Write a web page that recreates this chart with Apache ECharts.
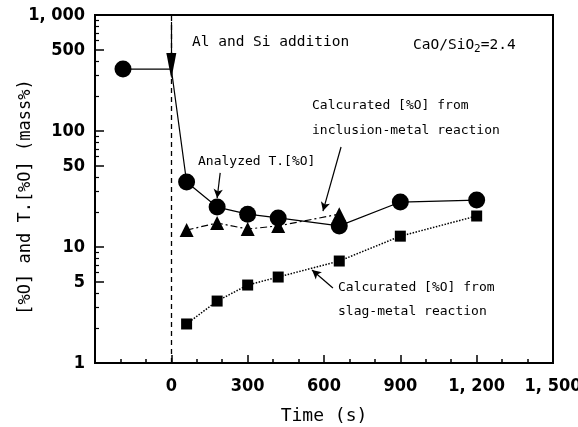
<!DOCTYPE html>
<html><head><meta charset="utf-8">
<script src="https://cdn.jsdelivr.net/npm/echarts@6/dist/echarts.min.js"></script>
<style>html,body{margin:0;padding:0;background:#fff}#c{width:578px;height:427px}</style>
</head><body><div id="c"></div>
<script>
// ---- data ----
const additionTime = 0;
const analyzedTime = [-190, 60, 180, 300, 420, 660, 900, 1200];
const analyzedO = [342, 36.3, 22.1, 19.2, 17.8, 15.2, 24.4, 25.4];
const inclusionTime = [60, 180, 300, 420, 660];
const inclusionO = [14.0, 16.1, 14.3, 15.2, 19.2];
const slagTime = [60, 180, 300, 420, 660, 900, 1200];
const slagO = [2.17, 3.42, 4.70, 5.51, 7.57, 12.4, 18.5];
const xTicks = [0, 300, 600, 900, 1200, 1500];
const yLabels = [1, 5, 10, 50, 100, 500, 1000];
const yMinor = [2,3,4,6,7,8,9,20,30,40,60,70,80,90,200,300,400,600,700,800,900];

const fmt = v => v >= 1000 ? Math.floor(v/1000) + ', ' + String(v % 1000).padStart(3,'0') : String(v);
const axisFont = '"DejaVu Sans Condensed", "DejaVu Sans", sans-serif';
const mono = '"DejaVu Sans Mono"';

const circleData = [[analyzedTime[0], analyzedO[0]],
  {value: [additionTime, analyzedO[0]], symbol: 'none'}];
for (let i = 1; i < analyzedTime.length; i++) circleData.push([analyzedTime[i], analyzedO[i]]);

const chart = echarts.init(document.getElementById('c'), null, {renderer: 'canvas'});
chart.setOption({
  animation: false,
  backgroundColor: '#fff',
  grid: {left: 95, right: 25, top: 15, bottom: 64, outerBoundsMode: 'none', containLabel: false,
    show: true, borderColor: '#000', borderWidth: 2},
  xAxis: {
    type: 'value', min: -300, max: 1500, interval: 300,
    name: 'Time (s)', nameLocation: 'middle', nameGap: 44, nameMoveOverlap: false,
    nameTextStyle: {fontFamily: mono, fontSize: 18, color: '#000'},
    axisLine: {onZero: false, lineStyle: {color: '#000', width: 2}},
    axisTick: {inside: true, length: 8, lineStyle: {color: '#000', width: 1.5}},
    minorTick: {show: true, splitNumber: 3, length: 4, lineStyle: {color: '#000', width: 1.5}},
    splitLine: {show: false},
    axisLabel: {margin: 14, fontFamily: axisFont, fontSize: 18, fontWeight: 'bold', color: '#000',
      formatter: v => xTicks.indexOf(v) >= 0 ? fmt(v) : ''}
  },
  yAxis: [{
    type: 'log', logBase: 10, min: 1, max: 1000,
    name: '[%O] and T.[%O] (mass%)', nameLocation: 'middle', nameGap: 61, nameRotate: 90, nameMoveOverlap: false,
    nameTextStyle: {fontFamily: mono, fontSize: 17, color: '#000', padding: [0, 16, 0, 0]},
    axisLine: {onZero: false, lineStyle: {color: '#000', width: 2}},
    axisTick: {inside: true, length: 9, customValues: yLabels, lineStyle: {color: '#000', width: 1.5}},
    splitLine: {show: false},
    axisLabel: {margin: 10, customValues: yLabels, fontFamily: axisFont, fontSize: 18, fontWeight: 'bold', color: '#000',
      formatter: v => fmt(Math.round(v))}
  }, {
    type: 'log', logBase: 10, min: 1, max: 1000, position: 'left',
    axisLine: {show: false, onZero: false},
    axisTick: {inside: true, length: 4, customValues: yMinor, lineStyle: {color: '#000', width: 1.2}},
    axisLabel: {show: false}, splitLine: {show: false}
  }],
  series: [{
    type: 'line', data: circleData, symbol: 'circle', symbolSize: 17,
    itemStyle: {color: '#000'}, lineStyle: {color: '#000', width: 1.2},
    markLine: {
      silent: true, symbol: 'none', label: {show: false},
      lineStyle: {color: '#000', type: [5, 4], width: 1.3},
      data: [{xAxis: additionTime}]
    }
  }, {
    type: 'line', data: inclusionTime.map((t, i) => [t, inclusionO[i]]),
    symbol: 'triangle', symbolSize: 14,
    itemStyle: {color: '#000'}, lineStyle: {color: '#000', width: 1.2, type: [7, 3, 2, 3]}
  }, {
    type: 'line', data: slagTime.map((t, i) => [t, slagO[i]]),
    symbol: 'rect', symbolSize: 11,
    itemStyle: {color: '#000'}, lineStyle: {color: '#000', width: 1.5, type: [1.5, 1.5]},
    markLine: {
      silent: true, label: {show: false}, symbol: ['none', 'arrow'], symbolSize: [7, 9],
      lineStyle: {color: '#000', type: 'solid', width: 1.2},
      data: [
        [{coord: [192, 43.5]}, {coord: [180, 26.4]}],
        [{coord: [667, 72.8]}, {coord: [596, 20.4]}],
        [{coord: [635, 4.43]}, {coord: [553, 6.34]}],
        [{coord: [additionTime, 871], symbol: 'none'}, {coord: [additionTime, 363], symbol: 'triangle', symbolSize: [10, 26]}]
      ]
    }
  }],
  graphic: [
    {type: 'text', left: 192, top: 35, style: {text: 'Al and Si addition', font: '14.5px "DejaVu Sans Mono"', fill: '#000'}},
    {type: 'text', left: 413, top: 38, style: {
      text: '{a|CaO/SiO}{s|2}{a|=2.4}',
      rich: {a: {fontFamily: mono, fontSize: 14.5, fill: '#000'}, s: {fontFamily: mono, fontSize: 11, padding: [8, 0, 0, 0], fill: '#000'}}
    }},
    {type: 'text', left: 312, top: 99, style: {text: 'Calcurated [%O] from', font: '13px "DejaVu Sans Mono"', fill: '#000'}},
    {type: 'text', left: 312, top: 124, style: {text: 'inclusion-metal reaction', font: '13px "DejaVu Sans Mono"', fill: '#000'}},
    {type: 'text', left: 198, top: 155, style: {text: 'Analyzed T.[%O]', font: '13px "DejaVu Sans Mono"', fill: '#000'}},
    {type: 'text', left: 338, top: 281, style: {text: 'Calcurated [%O] from', font: '13px "DejaVu Sans Mono"', fill: '#000'}},
    {type: 'text', left: 338, top: 305, style: {text: 'slag-metal reaction', font: '13px "DejaVu Sans Mono"', fill: '#000'}}
  ]
});
</script></body></html>
